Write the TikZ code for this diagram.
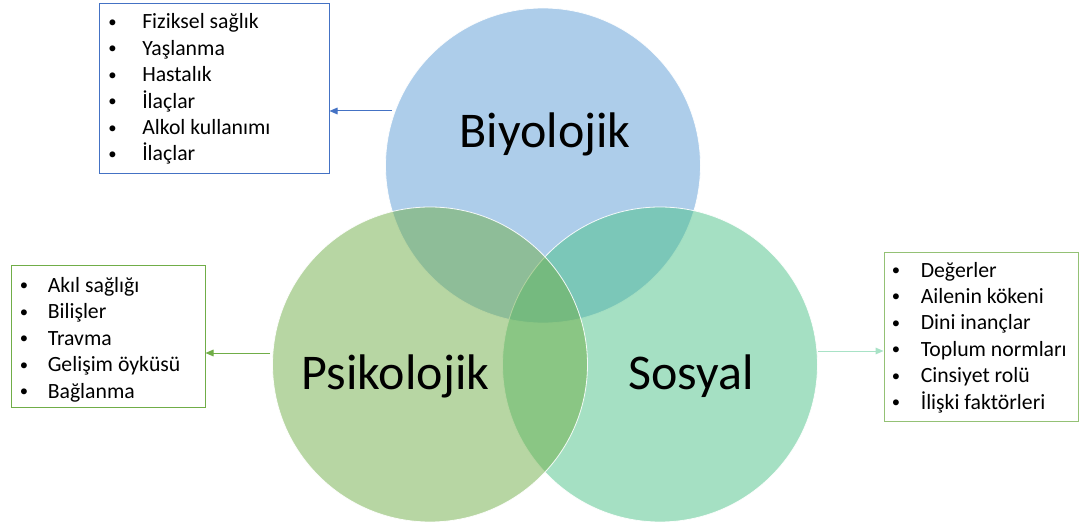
\documentclass[tikz,border=0pt]{standalone}
\usepackage{fontspec}
\setmainfont{Carlito}
\usetikzlibrary{arrows.meta}
\definecolor{cblue}{HTML}{5B9BD5}
\definecolor{cgreen}{HTML}{70AD47}
\definecolor{cteal}{HTML}{4BC187}
\definecolor{bblue}{HTML}{4472C4}
\definecolor{ateal}{HTML}{A8E2C6}
\tikzset{
  venn/.style={circle, inner sep=0pt, minimum size=236.25pt, fill opacity=0.5, draw=white, draw opacity=0.9, line width=0.6pt},
  biglabel/.style={inner sep=0pt, anchor=base, font=\fontsize{37.5}{45}\selectfont, text=black},
  listbox/.style={rectangle, line width=0.75pt, inner sep=0pt, fill=white},
  bul/.style={inner sep=0pt, anchor=base, font=\fontsize{12.5}{15}\selectfont},
  item/.style={inner sep=0pt, anchor=base west, font=\fontsize{16.3}{20}\selectfont},
  conn/.style={line width=0.75pt, -{Triangle[length=6pt,width=5pt]}}
}
\begin{document}
\begin{tikzpicture}[x=0.75pt,y=-0.75pt]
\useasboundingbox (0,0) rectangle (1079,524);
% circles
\node[venn, fill=cblue] (bio) at (543,165.5) {};
\node[venn, fill=cteal] (sos) at (660,364.5) {};
\node[venn, fill=cgreen] (psi) at (430,364.5) {};
\node[biglabel] (biol) at (545,148) {Biyolojik};
\node[biglabel] (psil) at (395.5,389) {Psikolojik};
\node[biglabel] (sosl) at (691,389) {Sosyal};
% boxes
\node[listbox, draw=bblue, minimum width=172.5pt, minimum height=127.5pt] (bbox) at (214,89) {};
\node[listbox, draw=cgreen, minimum width=145.5pt, minimum height=105.75pt] (pbox) at (108,336.5) {};
\node[listbox, draw=cgreen!75, minimum width=145.5pt, minimum height=126pt] (sbox) at (981,337) {};
% lists
\foreach \t [count=\i] in {Fiziksel sağlık, Yaşlanma, Hastalık, İlaçlar, Alkol kullanımı, İlaçlar}{
  \node[bul] (bb\i) at (112.5,{27.5+26.4*(\i-1)}) {•};
  \node[item] (bt\i) at (142,{29+26.4*(\i-1)}) {\t};
}
\foreach \t [count=\i] in {Akıl sağlığı, Bilişler, Travma, Gelişim öyküsü, Bağlanma}{
  \node[bul] (pb\i) at (24,{290.5+26.5*(\i-1)}) {•};
  \node[item] (pt\i) at (47.5,{292+26.5*(\i-1)}) {\t};
}
\foreach \t [count=\i] in {Değerler, Ailenin kökeni, Dini inançlar, Toplum normları, Cinsiyet rolü, İlişki faktörleri}{
  \node[bul] (sb\i) at (896,{275.5+26.4*(\i-1)}) {•};
  \node[item] (st\i) at (920.5,{277+26.4*(\i-1)}) {\t};
}
% connectors
\coordinate (bstart) at (392,111);
\coordinate (pstart) at (270,353);
\coordinate (sstart) at (818,351);
\draw[conn, bblue] (bstart) -- (bbox.east |- bstart);
\draw[conn, cgreen] (pstart) -- (pbox.east |- pstart);
\draw[conn, ateal] (sstart) -- (sbox.west |- sstart);
\end{tikzpicture}
\end{document}
